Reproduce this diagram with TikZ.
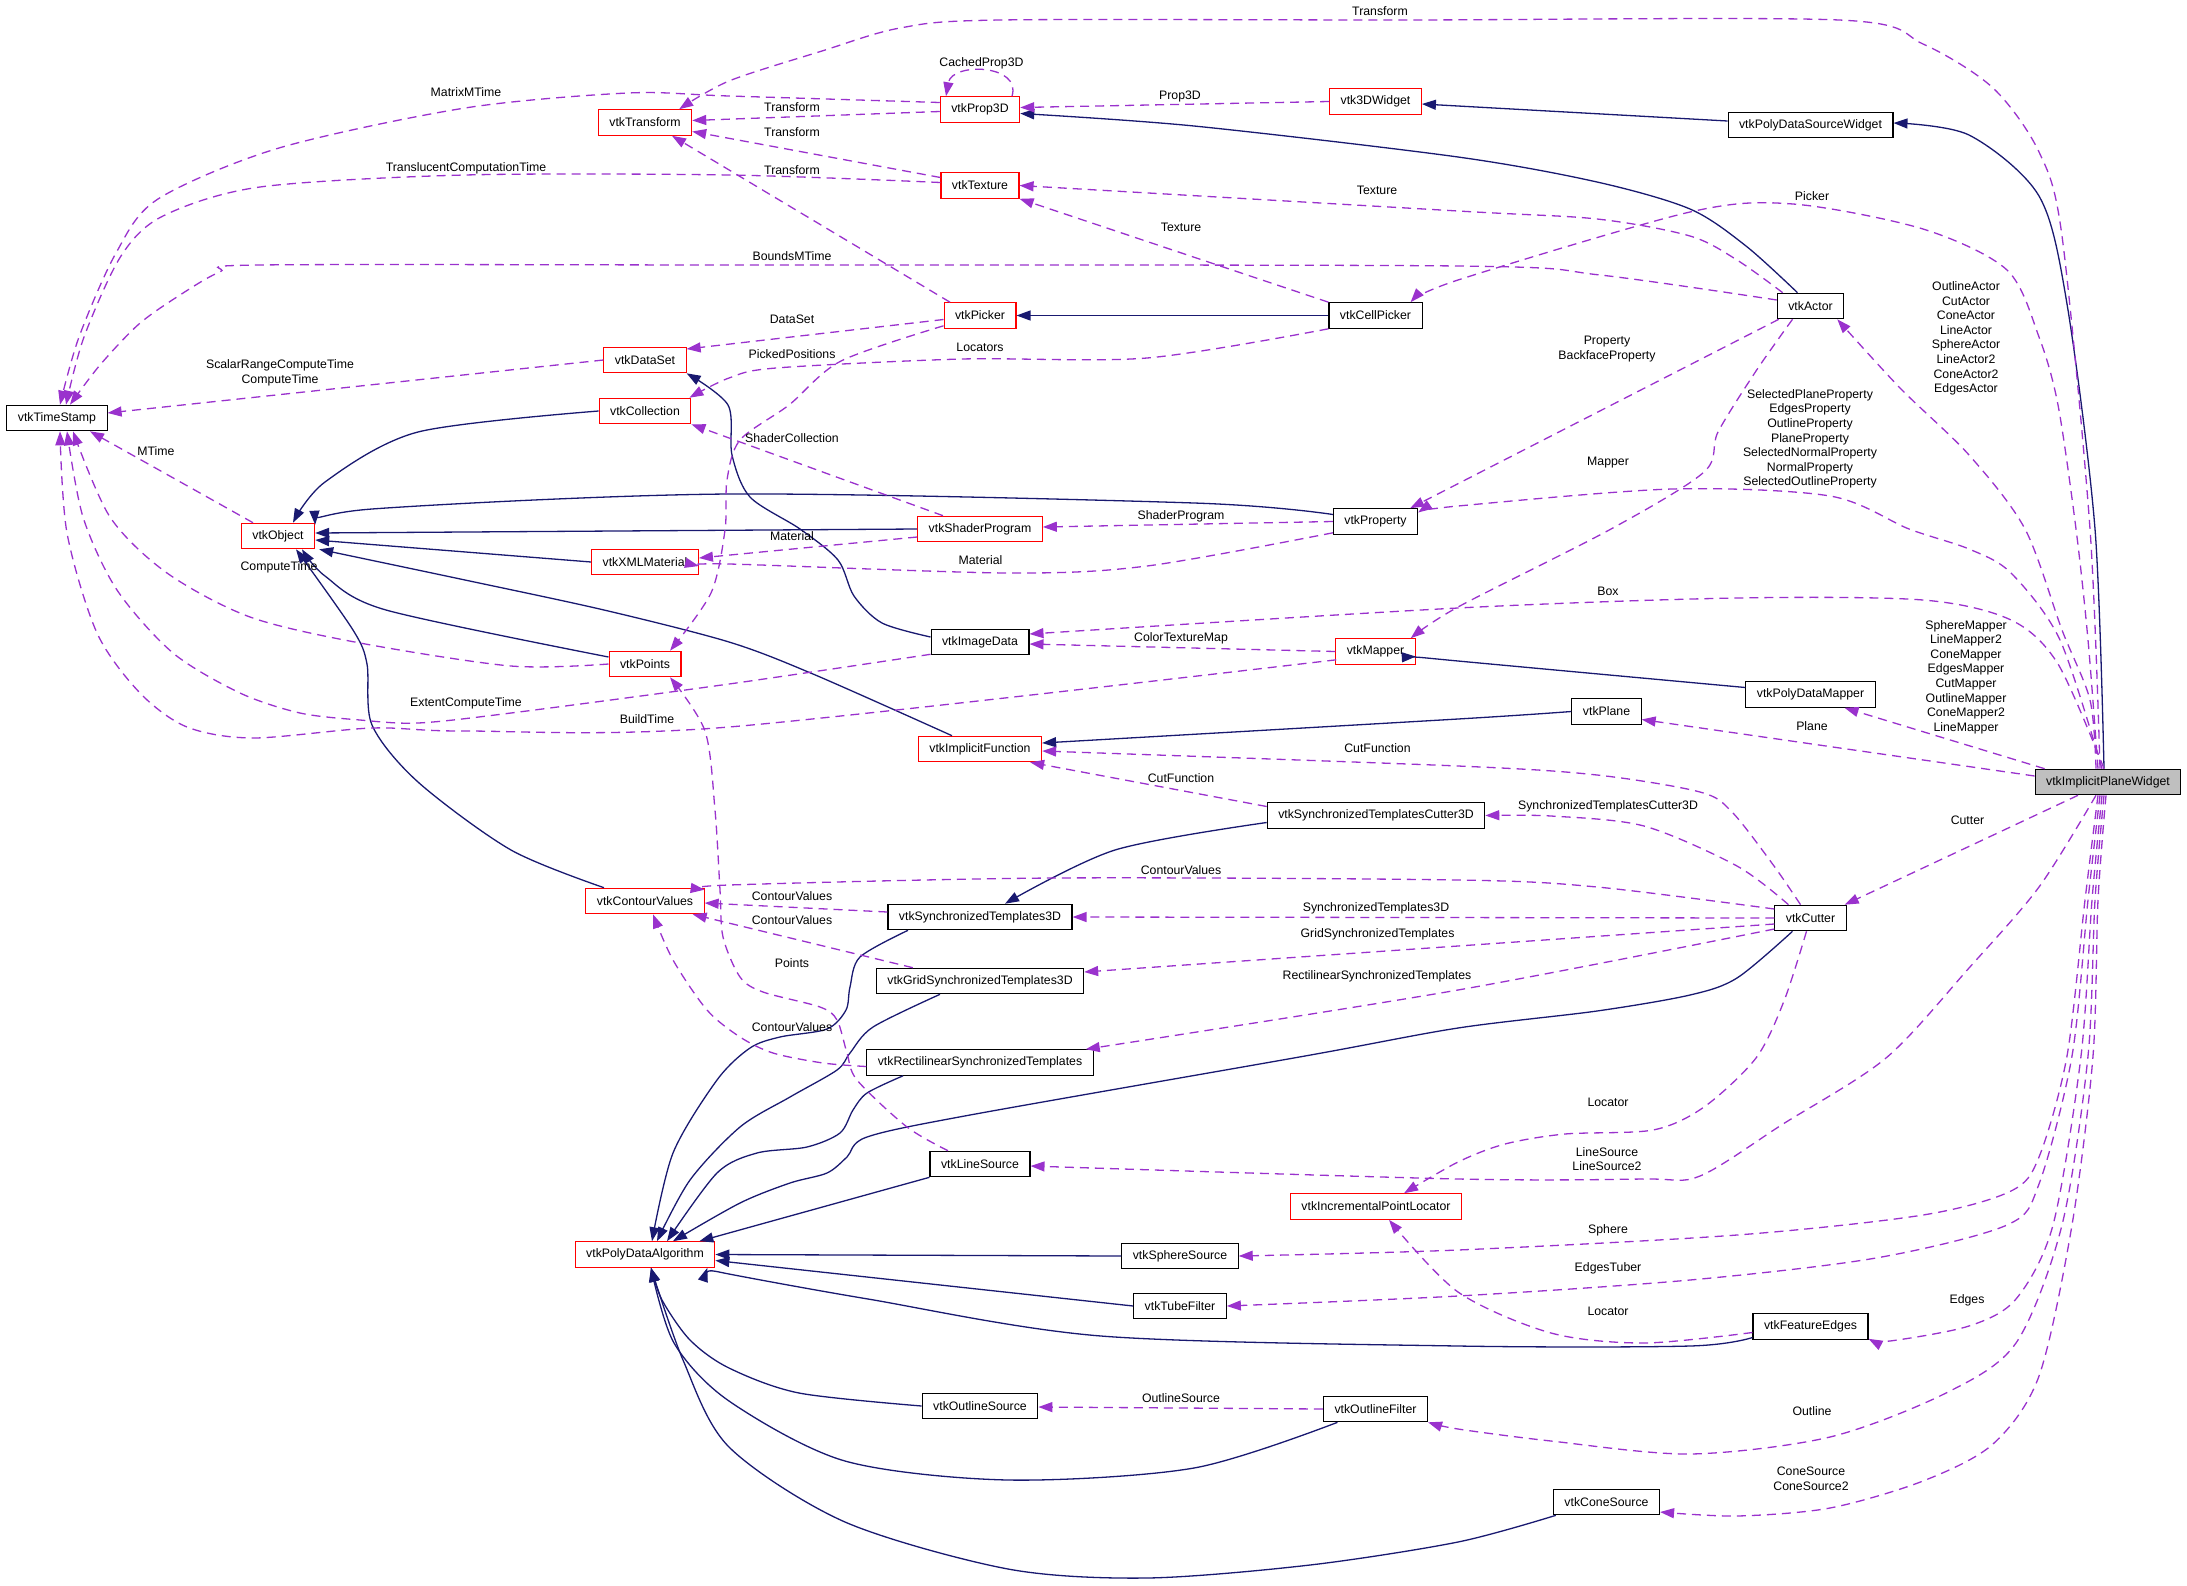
\documentclass[tikz,border=0pt]{standalone}
\usepackage{fontspec}
\setmainfont{Liberation Sans}
\usetikzlibrary{arrows.meta,calc}
\definecolor{navy}{HTML}{191970}
\definecolor{orch}{HTML}{9A32CD}
\definecolor{boxred}{HTML}{FF0000}
\definecolor{ipwgray}{HTML}{BFBFBF}
\begin{document}
\begin{tikzpicture}[x=1pt,y=-1pt,
  cls/.style={draw=black, line width=1.1pt, fill=white, minimum height=25.5pt, inner xsep=11pt, inner ysep=0pt, font=\fontsize{12.3}{14.6}\selectfont},
  redcls/.style={cls, draw=boxred},
  focus/.style={cls, fill=ipwgray},
  inh/.style={draw=navy, line width=1.3pt, -{Triangle[length=14pt,width=10pt]}},
  use/.style={draw=orch, line width=1.3pt, dash pattern=on 9pt off 6pt, -{Triangle[length=14pt,width=10pt]}},
  lbl/.style={font=\fontsize{12.3}{14.6}\selectfont, align=center, inner sep=0pt}
]
\useasboundingbox (0,0) rectangle (2187,1585);

% nodes
\node[cls] (ts) at (57,418) {vtkTimeStamp};
\node[redcls] (tr) at (645,122.5) {vtkTransform};
\node[redcls] (ds) at (645,360) {vtkDataSet};
\node[redcls] (col) at (645,411) {vtkCollection};
\node[redcls] (obj) at (278,536) {vtkObject};
\node[redcls] (xml) at (645,562) {vtkXMLMaterial};
\node[redcls] (pts) at (645,664) {vtkPoints};
\node[redcls] (cv) at (645,901) {vtkContourValues};
\node[redcls] (pda) at (645,1254.5) {vtkPolyDataAlgorithm};
\node[redcls] (p3d) at (980,109.5) {vtkProp3D};
\node[redcls] (tex) at (980,185.5) {vtkTexture};
\node[redcls] (pick) at (980,315.5) {vtkPicker};
\node[redcls] (sp) at (980,529) {vtkShaderProgram};
\node[cls] (img) at (980,642) {vtkImageData};
\node[redcls] (impf) at (980,749) {vtkImplicitFunction};
\node[cls] (st3d) at (980,917) {vtkSynchronizedTemplates3D};
\node[cls] (gst) at (980,981) {vtkGridSynchronizedTemplates3D};
\node[cls] (rst) at (980,1062.5) {vtkRectilinearSynchronizedTemplates};
\node[cls] (ls) at (980,1164) {vtkLineSource};
\node[cls] (os) at (980,1406) {vtkOutlineSource};
\node[redcls] (w3d) at (1375.5,101.5) {vtk3DWidget};
\node[cls] (cp) at (1375.5,315.5) {vtkCellPicker};
\node[cls] (prop) at (1375.5,521.5) {vtkProperty};
\node[redcls] (map) at (1375.5,651.5) {vtkMapper};
\node[cls] (stc) at (1376,815.5) {vtkSynchronizedTemplatesCutter3D};
\node[redcls] (ipl) at (1376,1206.5) {vtkIncrementalPointLocator};
\node[cls] (ss) at (1180,1256) {vtkSphereSource};
\node[cls] (tf) at (1180,1306) {vtkTubeFilter};
\node[cls] (of) at (1375.5,1409) {vtkOutlineFilter};
\node[cls] (plane) at (1606.5,711.5) {vtkPlane};
\node[cls] (cone) at (1606.5,1502) {vtkConeSource};
\node[cls] (pdsw) at (1810.5,125) {vtkPolyDataSourceWidget};
\node[cls] (actor) at (1810.5,306) {vtkActor};
\node[cls] (pdm) at (1810.5,694.5) {vtkPolyDataMapper};
\node[cls] (cut) at (1810.5,918) {vtkCutter};
\node[cls] (fe) at (1810.5,1326.5) {vtkFeatureEdges};
\node[focus] (ipw) at (2108,782) {vtkImplicitPlaneWidget};

% inheritance
\draw[inh] plot[smooth] coordinates {($(actor.north)+(-13,0)$) (1746,246) (1690,209) (1597,182) (1458,157) (1194,126) ($(p3d.east)+(0,4)$)};
\draw[inh] ($(pdsw.west)+(0,-4)$) -- ($(w3d.east)+(0,2.5)$);
\draw[inh] plot[smooth] coordinates {($(ipw.north)+(-4,0)$) (2095,529) (2067,304) (2039,196) (1969,135) ($(pdsw.east)+(0,-2)$)};
\draw[inh] (cp.west) -- (pick.east);
\draw[inh] plot[smooth] coordinates {($(img.west)+(0,-5)$) (882,623) (854,596) (838,560) (800,529) (750,497) (732,455) (728,405) (ds.south east)};
\draw[inh] plot[smooth] coordinates {(col.west) (418,432) (325,482) ($(obj.north)+(15,0)$)};
\draw[inh] plot[smooth] coordinates {($(prop.west)+(0,-7)$) (1194,503) (729,494) (372,509) ($(obj.north east)+(0,2)$)};
\draw[inh] (sp.west) -- ($(obj.east)+(0,-3)$);
\draw[inh] (xml.west) -- ($(obj.east)+(0,4)$);
\draw[inh] plot[smooth] coordinates {($(impf.north)+(-28,0)$) (813,674) (729,642) (604,610) (465,580) ($(obj.south east)+(4,0)$)};
\draw[inh] plot[smooth] coordinates {($(pts.west)+(0,-7)$) (386,610) (325,576) ($(obj.south)+(24,0)$)};
\draw[inh] plot[smooth] coordinates {($(cv.north)+(-41,0)$) (511,850) (418,782) (372,725) (367,664) (353,630) ($(obj.south)+(18,0)$)};
\draw[inh] plot[smooth] coordinates {(plane.west) (1458,719) ($(impf.east)+(0,-6)$)};
\draw[inh] plot[smooth] coordinates {($(pdm.west)+(0,-7)$) (1458,661) ($(map.east)+(0,5)$)};
\draw[inh] plot[smooth] coordinates {($(stc.west)+(0,7)$) (1115,850) ($(st3d.north)+(25,0)$)};
\draw[inh] plot[smooth] coordinates {($(st3d.south)+(-72,0)$) (860,957) (850,987) (846,1010) (827,1029) (780,1037) (750,1048) (717,1080) (673,1153) ($(pda.north)+(7,0)$)};
\draw[inh] plot[smooth] coordinates {($(gst.south)+(-40,0)$) (873,1027) (850,1053) (837,1070) (790,1097) (740,1127) (690,1180) ($(pda.north)+(12,0)$)};
\draw[inh] plot[smooth] coordinates {($(rst.south)+(-77,0)$) (867,1093) (853,1110) (840,1133) (807,1147) (757,1153) (717,1173) ($(pda.north)+(22,0)$)};
\draw[inh] plot[smooth] coordinates {($(cut.south)+(-18,0)$) (1737,978) (1690,995) (1597,1011) (1458,1028) (1305,1056) (970,1115) (867,1137) (847,1157) (827,1173) (790,1183) (740,1203) ($(pda.north)+(28,0)$)};
\draw[inh] (ls.south west) -- ($(pda.north east)+(-16,0)$);
\draw[inh] (ss.west) -- (pda.east);
\draw[inh] (tf.west) -- ($(pda.east)+(0,6)$);
\draw[inh] plot[smooth] coordinates {($(fe.west)+(0,11)$) (1690,1346) (1458,1346) (1101,1336) (868,1299) (729,1274) ($(pda.south east)+(-8,0)$)};
\draw[inh] plot[smooth] coordinates {(os.west) (799,1393) (729,1368) (690,1340) (662,1300) ($(pda.south)+(6,0)$)};
\draw[inh] plot[smooth] coordinates {($(of.south)+(-38,0)$) (1194,1468) (1008,1480) (845,1461) (729,1401) (674,1343) ($(pda.south)+(6,0)$)};
\draw[inh] plot[smooth] coordinates {($(cone.south west)+(3,0)$) (1458,1542) (1310,1565) (1147,1578) (1008,1569) (845,1522) (729,1447) (683,1360) ($(pda.south)+(6,0)$)};

% usage
\draw[use] plot[smooth] coordinates {($(ipw.north)+(-8,0)$) (2090,529) (2062,236) (2039,152) (1993,88) (1923,44) (1839,20) (1400,20) (1000,20) (900,28) (822,51) (729,81) ($(tr.north east)+(-13,0)$)};
\draw[use] plot[smooth] coordinates {($(ipw.north)+(-10,0)$) (2088,640) (2076,529) (2058,405) (2039,337) (2007,270) (1923,229) (1793,204) (1690,212) (1458,280) ($(cp.north east)+(-12,0)$)};
\draw[use] plot[smooth] coordinates {($(ipw.north)+(-12,0)$) (2090,700) (2062,630) (2025,529) (1969,455) (1900,388) ($(actor.south east)+(-7,0)$)};
\draw[use] plot[smooth] coordinates {($(ipw.north)+(-6,0)$) (2060,640) (2011,573) (1969,549) (1909,529) (1830,496) (1672,489) (1458,506) ($(prop.east)+(0,-9)$)};
\draw[use] plot[smooth] coordinates {($(ipw.north)+(-4,0)$) (2058,664) (2011,620) (1923,600) (1737,598) (1458,608) ($(img.east)+(0,-8)$)};
\draw[use] ($(ipw.north west)+(10,0)$) -- ($(pdm.south)+(34,0)$);
\draw[use] ($(ipw.west)+(0,-6)$) -- ($(plane.east)+(0,8)$);
\draw[use] ($(ipw.south)+(-30,0)$) -- ($(cut.north east)+(-2,0)$);
\draw[use] plot[smooth] coordinates {($(ipw.south)+(-12,0)$) (2039,887) (1969,968) (1886,1058) (1783,1124) (1700,1176) (1644,1179) (1458,1179) ($(ls.east)+(0,2)$)};
\draw[use] plot[smooth] coordinates {($(ipw.south)+(-10,0)$) (2085,900) (2067,1056) (2039,1157) (2011,1191) (1923,1215) (1737,1235) (1458,1250) (ss.east)};
\draw[use] plot[smooth] coordinates {($(ipw.south)+(-8,0)$) (2088,900) (2072,1056) (2039,1184) (2007,1225) (1876,1258) (1690,1280) (1458,1296) (tf.east)};
\draw[use] plot[smooth] coordinates {($(ipw.south)+(-6,0)$) (2092,900) (2081,1056) (2053,1225) (2016,1299) (1969,1326) (1890,1341) ($(fe.south east)+(0,-1)$)};
\draw[use] plot[smooth] coordinates {($(ipw.south)+(-4,0)$) (2095,900) (2088,1056) (2062,1225) (2016,1343) (1946,1393) (1830,1437) (1690,1454) (1551,1441) (1458,1429) (of.south east)};
\draw[use] plot[smooth] coordinates {($(ipw.south)+(-2,0)$) (2098,900) (2093,1056) (2072,1225) (2039,1376) (1993,1444) (1923,1481) (1830,1508) (1737,1516) ($(cone.east)+(0,10)$)};
\draw[use] plot[smooth] coordinates {($(actor.north west)+(6,0)$) (1737,260) (1690,236) (1597,219) (1458,211) (tex.east)};
\draw[use] (cp.north west) -- (tex.south east);
\draw[use] plot[smooth] coordinates {($(actor.west)+(0,-6)$) (1600,275) (1458,266) (729,265) (260,265) (220,272) (180,295) (139,324) (100,365) ($(ts.north)+(13,0)$)};
\draw[use] plot[smooth] coordinates {($(p3d.west)+(0,-7)$) (729,96) (628,93) (465,108) (279,148) (158,199) (116,253) (79,337) ($(ts.north)+(3,0)$)};
\draw[use] plot[smooth] coordinates {($(tex.west)+(0,-3)$) (729,175) (465,175) (260,187) (163,216) (121,256) (84,337) ($(ts.north)+(9,0)$)};
\draw[use] ($(p3d.west)+(0,2)$) -- ($(tr.east)+(0,-2)$);
\draw[use] ($(tex.west)+(0,-8)$) -- ($(tr.east)+(0,9)$);
\draw[use] ($(pick.north)+(-30,0)$) -- ($(tr.south)+(27,0)$);
\draw[use] ($(p3d.north)+(32,0)$) .. controls (1022,64) and (952,62) .. ($(p3d.north)+(-34,0)$);
\draw[use] (w3d.west) -- ($(p3d.east)+(0,-2)$);
\draw[use] ($(pick.west)+(0,4)$) -- ($(ds.east)+(0,-11)$);
\draw[use] plot[smooth] coordinates {($(pick.south west)+(0,-3)$) (841,361) (789,405) (740,440) (727,480) (725,530) (711,593) ($(pts.north)+(25,0)$)};
\draw[use] plot[smooth] coordinates {(cp.south west) (1147,358) (962,359) (776,368) (729,378) ($(col.north east)+(-2,0)$)};
\draw[use] (ds.west) -- ($(ts.east)+(0,-5)$);
\draw[use] ($(obj.north)+(-25,0)$) -- ($(ts.south)+(33,0)$);
\draw[use] ($(sp.north)+(-37,0)$) -- (col.south east);
\draw[use] (prop.west) -- ($(sp.east)+(0,-2)$);
\draw[use] ($(sp.west)+(0,8)$) -- ($(xml.east)+(0,-4)$);
\draw[use] plot[smooth] coordinates {($(prop.south west)+(0,-2)$) (1147,566) (1008,573) (729,564) ($(xml.east)+(0,4)$)};
\draw[use] ($(actor.south west)+(2,0)$) -- ($(prop.north east)+(-8,0)$);
\draw[use] plot[smooth] coordinates {($(actor.south)+(-18,0)$) (1756,371) (1718,432) (1704,472) (1611,529) (1458,607) ($(map.north east)+(-5,0)$)};
\draw[use] (map.west) -- ($(img.east)+(0,2)$);
\draw[use] plot[smooth] coordinates {($(img.south west)+(0,-1)$) (729,684) (511,713) (418,723) (360,720) (300,713) (240,693) (173,653) (117,590) (83,517) ($(ts.south)+(10,0)$)};
\draw[use] plot[smooth] coordinates {($(map.south west)+(1,-5)$) (729,727) (465,731) (372,728) (253,738) (187,727) (140,693) (97,633) (67,533) ($(ts.south)+(3,0)$)};
\draw[use] plot[smooth] coordinates {(pts.west) (511,666) (360,643) (250,617) (167,573) (110,517) ($(ts.south)+(16,0)$)};
\draw[use] plot[smooth] coordinates {($(cut.north)+(-10,0)$) (1774,866) (1732,812) (1700,792) (1597,775) (1458,766) ($(impf.east)+(0,2)$)};
\draw[use] ($(stc.west)+(0,-9)$) -- ($(impf.south east)+(-12,0)$);
\draw[use] plot[smooth] coordinates {($(cut.north)+(-22,0)$) (1737,866) (1644,826) (1551,816) (stc.east)};
\draw[use] plot[smooth] coordinates {($(cut.west)+(0,-9)$) (1597,887) (1458,880) (1054,878) (729,885) ($(cv.north east)+(0,2)$)};
\draw[use] (cut.west) -- (st3d.east);
\draw[use] plot[smooth] coordinates {($(cut.west)+(0,6)$) (1458,946) ($(gst.east)+(0,-9)$)};
\draw[use] plot[smooth] coordinates {($(cut.west)+(0,11)$) (1458,990) ($(rst.north east)+(-8,0)$)};
\draw[use] ($(st3d.west)+(0,-5)$) -- ($(cv.east)+(0,2)$);
\draw[use] ($(gst.north west)+(37,0)$) -- ($(cv.south east)+(-12,0)$);
\draw[use] plot[smooth] coordinates {($(rst.west)+(0,4)$) (823,1063) (773,1053) (740,1037) (707,1010) (673,960) ($(cv.south)+(8,0)$)};
\draw[use] plot[smooth] coordinates {($(ls.north)+(-32,0)$) (907,1127) (857,1080) (847,1053) (837,1020) (820,1007) (763,992) (740,977) (723,937) (720,890) (715,810) (705,731) ($(pts.south)+(25,0)$)};
\draw[use] plot[smooth] coordinates {($(cut.south)+(-4,0)$) (1784,1001) (1756,1058) (1704,1107) (1653,1130) (1565,1134) (1505,1144) (1458,1162) ($(ipl.north east)+(-58,0)$)};
\draw[use] plot[smooth] coordinates {($(fe.west)+(0,6)$) (1644,1343) (1551,1333) (1458,1292) ($(ipl.south)+(13,0)$)};
\draw[use] (of.west) -- ($(os.east)+(0,1)$);

% labels
\node[lbl] (l1) at (1380,11) {Transform};
\node[lbl] (l2) at (981.5,63) {CachedProp3D};
\node[lbl] (l3) at (466,92) {MatrixMTime};
\node[lbl] (l4) at (1180,96) {Prop3D};
\node[lbl] (l5) at (792,107) {Transform};
\node[lbl] (l6) at (792,132) {Transform};
\node[lbl] (l7) at (466,168) {TranslucentComputationTime};
\node[lbl] (l8) at (792,170) {Transform};
\node[lbl] (l9) at (1377,190) {Texture};
\node[lbl] (l10) at (1812,196) {Picker};
\node[lbl] (l11) at (1181,227) {Texture};
\node[lbl] (l12) at (792,256) {BoundsMTime};
\node[lbl] (l13) at (1966,338.5) {OutlineActor\\CutActor\\ConeActor\\LineActor\\SphereActor\\LineActor2\\ConeActor2\\EdgesActor};
\node[lbl] (l14) at (792,319) {DataSet};
\node[lbl] (l15) at (980,347.5) {Locators};
\node[lbl] (l16) at (792,354) {PickedPositions};
\node[lbl] (l17) at (1607,349) {Property\\BackfaceProperty};
\node[lbl] (l18) at (280,373) {ScalarRangeComputeTime\\ComputeTime};
\node[lbl] (l19) at (1810,439) {SelectedPlaneProperty\\EdgesProperty\\OutlineProperty\\PlaneProperty\\SelectedNormalProperty\\NormalProperty\\SelectedOutlineProperty};
\node[lbl] (l20) at (792,438) {ShaderCollection};
\node[lbl] (l21) at (156,451) {MTime};
\node[lbl] (l22) at (1608,463) {Mapper};
\node[lbl] (l23) at (1181,516) {ShaderProgram};
\node[lbl] (l24) at (792,536) {Material};
\node[lbl] (l25) at (980.5,560) {Material};
\node[lbl] (l26) at (279,567) {ComputeTime};
\node[lbl] (l27) at (1608,591) {Box};
\node[lbl] (l28) at (1966,677) {SphereMapper\\LineMapper2\\ConeMapper\\EdgesMapper\\CutMapper\\OutlineMapper\\ConeMapper2\\LineMapper};
\node[lbl] (l29) at (1181,638) {ColorTextureMap};
\node[lbl] (l30) at (466,703) {ExtentComputeTime};
\node[lbl] (l31) at (647,719) {BuildTime};
\node[lbl] (l32) at (1812,726) {Plane};
\node[lbl] (l33) at (1377.5,748) {CutFunction};
\node[lbl] (l34) at (1181,778) {CutFunction};
\node[lbl] (l35) at (1608,806) {SynchronizedTemplatesCutter3D};
\node[lbl] (l36) at (1967.5,820) {Cutter};
\node[lbl] (l37) at (1181,870) {ContourValues};
\node[lbl] (l38) at (792,896) {ContourValues};
\node[lbl] (l39) at (1376,908) {SynchronizedTemplates3D};
\node[lbl] (l40) at (792,920) {ContourValues};
\node[lbl] (l41) at (1377.5,934) {GridSynchronizedTemplates};
\node[lbl] (l42) at (792,963) {Points};
\node[lbl] (l43) at (1377,976) {RectilinearSynchronizedTemplates};
\node[lbl] (l44) at (792,1027) {ContourValues};
\node[lbl] (l45) at (1608,1102) {Locator};
\node[lbl] (l46) at (1607,1159) {LineSource\\LineSource2};
\node[lbl] (l47) at (1608,1230) {Sphere};
\node[lbl] (l48) at (1608,1268) {EdgesTuber};
\node[lbl] (l49) at (1967,1300) {Edges};
\node[lbl] (l50) at (1608,1311) {Locator};
\node[lbl] (l51) at (1181,1398.5) {OutlineSource};
\node[lbl] (l52) at (1812,1411) {Outline};
\node[lbl] (l53) at (1811,1479) {ConeSource\\ConeSource2};
\end{tikzpicture}
\end{document}
